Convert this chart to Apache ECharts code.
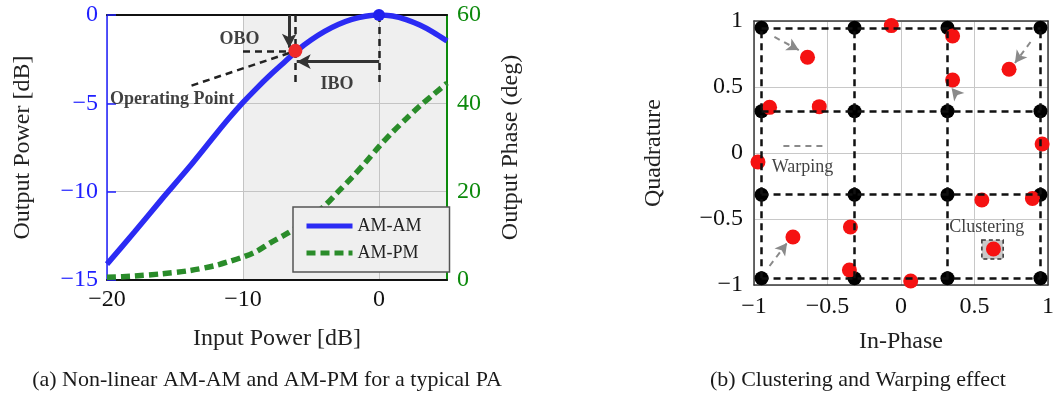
<!DOCTYPE html>
<html>
<head>
<meta charset="utf-8">
<script src="https://cdn.jsdelivr.net/npm/echarts@6/dist/echarts.min.js"></script>
<style>
  html, body { margin: 0; padding: 0; background: #fff; }
  #chart { width: 1057px; height: 395px; }
</style>
</head>
<body>
<div id="chart"></div>
<script>
// ---- (a) PA transfer characteristics ----
const inputPower = [-20, -18, -16, -14, -12, -11, -10, -9, -8, -7, -6, -5, -4, -3, -2, -1, 0, 1, 2, 3, 4, 5];
const amamOutput = [-14.1, -12.3, -10.45, -8.65, -6.75, -5.82, -4.95, -4.15, -3.4, -2.7, -2.0, -1.42, -0.93, -0.54, -0.25, -0.07, 0, -0.06, -0.26, -0.57, -0.98, -1.47];
const ampmPhase  = [0.6, 0.9, 1.4, 2.1, 3.3, 4.2, 5.2, 6.5, 8.4, 10.1, 12.0, 14.3, 16.8, 20.0, 23.2, 26.6, 30.2, 33.5, 36.5, 39.4, 42.0, 44.6];
const saturationPoint = [0, 0];
const operatingPoint  = [-6.15, -2.03];
const backoffRegion   = [-10, 5];
const inputTicks  = { min: -20, max: 5, step: 10 };
const powerTicks  = { min: -15, max: 0, step: 5 };
const phaseTicks  = { min: 0, max: 60, step: 20 };

// ---- (b) 16-QAM constellation before / after the PA ----
const idealLevels = [-0.9487, -0.3162, 0.3162, 0.9487];
const receivedI = [-0.636, -0.066, 0.351, 0.351, 0.735, -0.894, -0.556, 0.960, -0.973, 0.550, 0.894, -0.344, -0.735, -0.351, 0.066, 0.629];
const receivedQ = [0.725, 0.965, 0.886, 0.553, 0.634, 0.346, 0.351, 0.068, -0.068, -0.356, -0.345, -0.561, -0.636, -0.886, -0.970, -0.727];
const warpFrom = [[-0.861, 0.879], [0.881, 0.841], [0.384, 0.439], [-0.894, -0.856]];
const warpTo   = [[-0.695, 0.780], [0.775, 0.682], [0.344, 0.492], [-0.775, -0.682]];
const iqTicks = { min: -1, max: 1, step: 0.5 };

const SERIF = 'Liberation Serif, Times New Roman, serif';
const BLUE = '#2b2bf4';
const BLUE_TXT = '#2020ff';
const GREEN = '#2a8c2a';
const GREEN_TXT = '#0c8a0c';
const minus = v => String(v).replace('-', '\u2212');

const amamData = inputPower.map((x, i) => [x, amamOutput[i]]);
const ampmData = inputPower.map((x, i) => [x, ampmPhase[i]]);

const idealPoints = [];
idealLevels.forEach(i => idealLevels.forEach(q => idealPoints.push([i, q])));
const receivedPoints = receivedI.map((v, k) => [v, receivedQ[k]]);

const lo = idealLevels[0], hi = idealLevels[idealLevels.length - 1];
const qamGridLines = [];
idealLevels.forEach(v => {
  qamGridLines.push([{ coord: [lo, v] }, { coord: [hi, v] }]);
  qamGridLines.push([{ coord: [v, lo] }, { coord: [v, hi] }]);
});
const warpLines = warpFrom.map((p, k) => [{ coord: p }, { coord: warpTo[k] }]);

// back-off annotation geometry, tied to the operating point
const opX = operatingPoint[0], opY = operatingPoint[1];
const guideBottom = -4.07;
const oboX = opX - 0.45;
const iboY = -2.64;
const dashed = { type: [7, 5], width: 2.5, color: '#222' };
const solid = { type: 'solid', width: 3, color: '#333' };
const annotationLines = [
  { from: [oboX, 0], to: [oboX, -1.85], style: solid, arrow: true },
  { from: [0, iboY], to: [opX + 0.1, iboY], style: solid, arrow: true },
  { from: [opX, 0], to: [opX, guideBottom], style: dashed },
  { from: [0, 0], to: [0, guideBottom], style: dashed },
  { from: [-10, opY], to: [oboX, opY], style: dashed },
  { from: [oboX, opY - 0.12], to: [-14.07, guideBottom], style: dashed }
];
const annotationTexts = [
  { name: 'OBO', value: [-10.26, -1.36] },
  { name: 'IBO', value: [-3.08, -3.9] },
  { name: 'Operating Point', value: [-15.2, -4.8] }
];

const tickFont = { fontFamily: SERIF, fontSize: 24 };
const nameFont = { fontFamily: SERIF, fontSize: 24, color: '#222' };

const chart = echarts.init(document.getElementById('chart'), null, { renderer: 'canvas' });
chart.setOption({
  animation: false,
  backgroundColor: '#fff',
  grid: [
    { left: 107, top: 15, width: 340, height: 265 },
    { left: 754, top: 21, width: 302, height: 264 }
  ],
  legend: {
    data: ['AM-AM', 'AM-PM'],
    orient: 'vertical',
    left: 293, top: 207,
    backgroundColor: '#efefef',
    borderColor: '#555', borderWidth: 1.5, borderRadius: 0,
    padding: [10, 28, 10, 11],
    itemWidth: 46, itemHeight: 14, itemGap: 9,
    itemStyle: { color: 'rgba(0,0,0,0)', borderWidth: 0 },
    lineStyle: { width: 5 },
    textStyle: { fontFamily: SERIF, fontSize: 18, color: '#222' },
    z: 6
  },
  xAxis: [
    {
      gridIndex: 0, type: 'value', position: 'bottom', z: 2,
      min: inputTicks.min, max: inputTicks.max, interval: inputTicks.step,
      name: 'Input Power [dB]', nameLocation: 'middle', nameGap: 47, nameTextStyle: nameFont,
      axisLine: { onZero: false, lineStyle: { color: '#111', width: 2 } },
      axisTick: { show: false },
      axisLabel: Object.assign({ color: '#111', margin: 8, showMaxLabel: false, formatter: minus }, tickFont),
      splitLine: { show: true, lineStyle: { color: '#c4c4c4', width: 1 } }
    },
    {
      gridIndex: 0, type: 'value', position: 'top', z: 2,
      min: inputTicks.min, max: inputTicks.max,
      axisLine: { onZero: false, lineStyle: { color: '#111', width: 2 } },
      axisTick: { show: false }, axisLabel: { show: false }, splitLine: { show: false }
    },
    {
      gridIndex: 1, type: 'value', position: 'bottom',
      min: iqTicks.min, max: iqTicks.max, interval: iqTicks.step,
      name: 'In-Phase', nameLocation: 'middle', nameGap: 45, nameTextStyle: nameFont,
      axisLine: { onZero: false, lineStyle: { color: '#3a3a3a', width: 1.5 } },
      axisTick: { show: false },
      axisLabel: Object.assign({ color: '#111', margin: 10, formatter: minus }, tickFont),
      splitLine: { show: true, lineStyle: { color: '#c8c8c8', width: 1 } }
    },
    {
      gridIndex: 1, type: 'value', position: 'top',
      min: iqTicks.min, max: iqTicks.max,
      axisLine: { onZero: false, lineStyle: { color: '#3a3a3a', width: 1.5 } },
      axisTick: { show: false }, axisLabel: { show: false }, splitLine: { show: false }
    }
  ],
  yAxis: [
    {
      gridIndex: 0, type: 'value', position: 'left', z: 2,
      min: powerTicks.min, max: powerTicks.max, interval: powerTicks.step,
      name: 'Output Power [dB]', nameLocation: 'middle', nameRotate: 90, nameGap: 72, nameTextStyle: nameFont,
      axisLine: { onZero: false, lineStyle: { color: BLUE_TXT, width: 1.5 } },
      axisTick: { show: true, inside: true, length: 9, lineStyle: { color: BLUE_TXT, width: 1.5 } },
      axisLabel: Object.assign({ color: BLUE_TXT, margin: 9, formatter: minus }, tickFont),
      splitLine: { show: true, lineStyle: { color: '#c4c4c4', width: 1 } }
    },
    {
      gridIndex: 0, type: 'value', position: 'right', z: 2,
      min: phaseTicks.min, max: phaseTicks.max, interval: phaseTicks.step,
      name: 'Output Phase (deg)', nameLocation: 'middle', nameRotate: 90, nameGap: 52, nameTextStyle: nameFont,
      axisLine: { onZero: false, lineStyle: { color: GREEN_TXT, width: 2 } },
      axisTick: { show: false },
      axisLabel: Object.assign({ color: GREEN_TXT, margin: 10 }, tickFont),
      splitLine: { show: false }
    },
    {
      gridIndex: 1, type: 'value', position: 'left',
      min: iqTicks.min, max: iqTicks.max, interval: iqTicks.step,
      name: 'Quadrature', nameLocation: 'middle', nameRotate: 90, nameGap: 88, nameTextStyle: nameFont,
      axisLine: { onZero: false, lineStyle: { color: '#3a3a3a', width: 1.5 } },
      axisTick: { show: false },
      axisLabel: Object.assign({ color: '#111', margin: 11, formatter: minus }, tickFont),
      splitLine: { show: true, lineStyle: { color: '#c8c8c8', width: 1 } }
    },
    {
      gridIndex: 1, type: 'value', position: 'right',
      min: iqTicks.min, max: iqTicks.max,
      axisLine: { onZero: false, lineStyle: { color: '#3a3a3a', width: 1.5 } },
      axisTick: { show: false }, axisLabel: { show: false }, splitLine: { show: false }
    }
  ],
  series: [
    // shaded back-off region
    {
      name: 'region', type: 'line', xAxisIndex: 0, yAxisIndex: 0, data: [], z: 1, silent: true,
      markArea: {
        silent: true,
        itemStyle: { color: '#efefef' },
        data: [[{ xAxis: backoffRegion[0] }, { xAxis: backoffRegion[1] }]]
      }
    },
    {
      name: 'AM-AM', type: 'line', xAxisIndex: 0, yAxisIndex: 0, z: 3,
      data: amamData, smooth: 0.3, symbol: 'none',
      lineStyle: { color: BLUE, width: 5.5 }, itemStyle: { color: BLUE }
    },
    {
      name: 'AM-PM', type: 'line', xAxisIndex: 0, yAxisIndex: 1, z: 3,
      data: ampmData, smooth: 0.3, symbol: 'none',
      lineStyle: { color: GREEN, width: 5.5, type: [9, 5] }, itemStyle: { color: GREEN }
    },
    // back-off guides and arrows
    {
      name: 'guides', type: 'line', xAxisIndex: 0, yAxisIndex: 0, data: [], z: 4, silent: true,
      markLine: {
        silent: true, symbol: 'none', label: { show: false },
        data: annotationLines.map(a => [
          { coord: a.from, symbol: 'none', lineStyle: a.style },
          { coord: a.to, symbol: a.arrow ? 'arrow' : 'none', symbolSize: [11, 14], lineStyle: a.style }
        ])
      }
    },
    {
      name: 'saturation', type: 'scatter', xAxisIndex: 0, yAxisIndex: 0, z: 5,
      data: [saturationPoint], symbolSize: 12, itemStyle: { color: '#2020ee', opacity: 1 }
    },
    {
      name: 'operating', type: 'scatter', xAxisIndex: 0, yAxisIndex: 0, z: 5,
      data: [operatingPoint], symbolSize: 14, itemStyle: { color: '#f02a2a', opacity: 1 }
    },
    {
      name: 'notes', type: 'scatter', xAxisIndex: 0, yAxisIndex: 0, z: 5, silent: true,
      data: annotationTexts, symbolSize: 1, itemStyle: { color: 'rgba(0,0,0,0)' },
      label: {
        show: true, position: 'inside', formatter: '{b}',
        fontFamily: SERIF, fontSize: 18, fontWeight: 'bold', color: '#111'
      }
    },

    // ---- constellation panel ----
    {
      name: 'qamGrid', type: 'line', xAxisIndex: 2, yAxisIndex: 2, data: [], z: 2, silent: true,
      markLine: {
        silent: true, symbol: 'none', label: { show: false },
        lineStyle: { type: [7, 5], width: 2.5, color: '#111' },
        data: qamGridLines
      }
    },
    {
      name: 'ideal', type: 'scatter', xAxisIndex: 2, yAxisIndex: 2, z: 3,
      data: idealPoints, symbolSize: 14, itemStyle: { color: '#000', opacity: 1 }
    },
    {
      name: 'cluster', type: 'line', xAxisIndex: 2, yAxisIndex: 2, data: [], z: 3, silent: true,
      markArea: {
        silent: true,
        itemStyle: { color: '#c9c9c9', opacity: 1, borderColor: '#333', borderWidth: 1.5, borderType: [4, 3] },
        data: [[{ coord: [0.55, -0.66] }, { coord: [0.695, -0.803] }]]
      }
    },
    {
      name: 'warping', type: 'line', xAxisIndex: 2, yAxisIndex: 2, data: [], z: 3, silent: true,
      markLine: {
        silent: true, label: { show: false },
        lineStyle: { type: [6, 5], width: 2, color: '#8a8a8a' },
        data: warpLines.map(l => [
          Object.assign({ symbol: 'none' }, l[0]),
          Object.assign({ symbol: 'arrow', symbolSize: [10, 12] }, l[1])
        ]).concat([[
          { coord: [-0.80, 0.053], symbol: 'none' },
          { coord: [-0.53, 0.053], symbol: 'none' }
        ]])
      }
    },
    {
      name: 'received', type: 'scatter', xAxisIndex: 2, yAxisIndex: 2, z: 4,
      data: receivedPoints, symbolSize: 15, itemStyle: { color: '#f51212', opacity: 1 }
    },
    {
      name: 'effects', type: 'scatter', xAxisIndex: 2, yAxisIndex: 2, z: 5, silent: true,
      data: [
        { name: 'Warping', value: [-0.67, -0.106] },
        { name: 'Clustering', value: [0.583, -0.56] }
      ],
      symbolSize: 1, itemStyle: { color: 'rgba(0,0,0,0)' },
      label: {
        show: true, position: 'inside', formatter: '{b}',
        fontFamily: SERIF, fontSize: 18, color: '#111'
      }
    }
  ],
  graphic: [
    {
      type: 'text', z: 10,
      style: {
        text: '(a) Non-linear AM-AM and AM-PM for a typical PA',
        x: 267, y: 380, textAlign: 'center', textVerticalAlign: 'middle',
        font: '22px ' + SERIF, fill: '#1a1a1a'
      }
    },
    {
      type: 'text', z: 10,
      style: {
        text: '(b) Clustering and Warping effect',
        x: 858, y: 380, textAlign: 'center', textVerticalAlign: 'middle',
        font: '22px ' + SERIF, fill: '#1a1a1a'
      }
    }
  ]
});
</script>
</body>
</html>
